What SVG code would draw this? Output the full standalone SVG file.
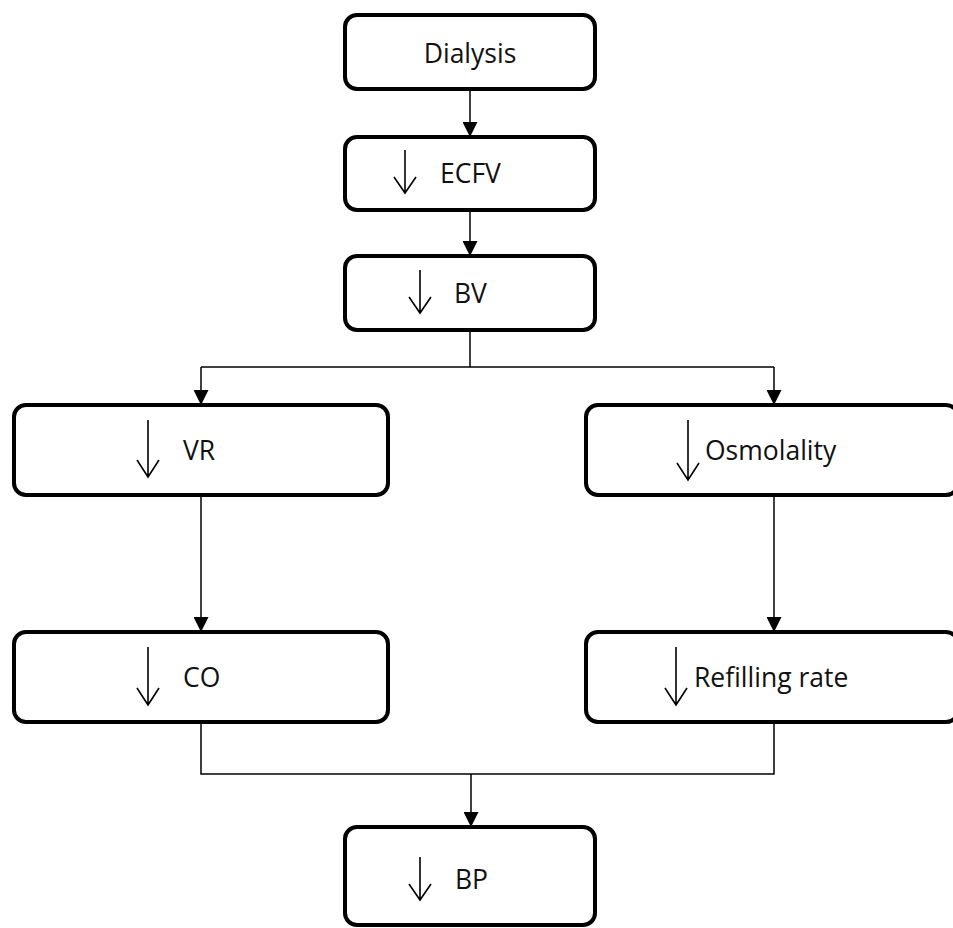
<svg xmlns="http://www.w3.org/2000/svg" width="953" height="928" viewBox="0 0 953 928">
<style>
.box{fill:#fff;stroke:#000;stroke-width:4}
.lbl{font-family:"Open Sans","Liberation Sans",sans-serif;font-size:26.5px;fill:#111}
.dn{fill:none;stroke:#000;stroke-width:1.6}
.con{fill:none;stroke:#000;stroke-width:1.5}
</style>
<defs>
<marker id="ahd" markerUnits="userSpaceOnUse" markerWidth="15" markerHeight="15" viewBox="0 0 15 15" refX="15" refY="7.5" orient="auto">
<path d="M0,0 L15,7.5 L0,15 Z" fill="#000"/>
</marker>
</defs>
<rect width="953" height="928" fill="#fff"/>
<g id="connectors">
<path class="con" d="M470,89 V137" marker-end="url(#ahd)"/>
<path class="con" d="M470,210 V256" marker-end="url(#ahd)"/>
<path class="con" d="M470,330 V367"/>
<path class="con" d="M201,367 H774"/>
<path class="con" d="M201,367 V405" marker-end="url(#ahd)"/>
<path class="con" d="M774,367 V405" marker-end="url(#ahd)"/>
<path class="con" d="M201,495 V632" marker-end="url(#ahd)"/>
<path class="con" d="M774,495 V632" marker-end="url(#ahd)"/>
<path class="con" d="M201,722 V774 H774 V722"/>
<path class="con" d="M471,774 V827" marker-end="url(#ahd)"/>
</g>
<g id="dialysis">
<rect class="box" x="345" y="15" width="250" height="74" rx="12"/>
<text class="lbl" x="470" y="63" text-anchor="middle">Dialysis</text>
</g>
<g id="ecfv">
<rect class="box" x="345" y="137" width="250" height="73" rx="12"/>
<path class="dn" d="M405,150 V193 M394,177 L405,193 L416,177"/>
<text class="lbl" x="440" y="183">ECFV</text>
</g>
<g id="bv">
<rect class="box" x="345" y="256" width="250" height="74" rx="12"/>
<path class="dn" d="M420,270 V313 M409,297 L420,313 L431,297"/>
<text class="lbl" x="454" y="303">BV</text>
</g>
<g id="vr">
<rect class="box" x="14" y="405" width="374" height="90" rx="12"/>
<path class="dn" d="M148,420 V477 M137,460 L148,477 L159,460"/>
<text class="lbl" x="183" y="460">VR</text>
</g>
<g id="osmolality">
<rect class="box" x="586" y="405" width="372" height="90" rx="12"/>
<path class="dn" d="M688,420 V480 M677,463 L688,480 L699,463"/>
<text class="lbl" x="705" y="460">Osmolality</text>
</g>
<g id="co">
<rect class="box" x="14" y="632" width="374" height="90" rx="12"/>
<path class="dn" d="M148,647 V705 M137,688 L148,705 L159,688"/>
<text class="lbl" x="183" y="687">CO</text>
</g>
<g id="refilling">
<rect class="box" x="586" y="632" width="372" height="90" rx="12"/>
<path class="dn" d="M676,647 V705 M665,688 L676,705 L687,688"/>
<text class="lbl" x="694" y="687">Refilling rate</text>
</g>
<g id="bp">
<rect class="box" x="345" y="827" width="250" height="98" rx="12"/>
<path class="dn" d="M420,857 V900 M409,884 L420,900 L431,884"/>
<text class="lbl" x="455" y="889">BP</text>
</g>
</svg>
